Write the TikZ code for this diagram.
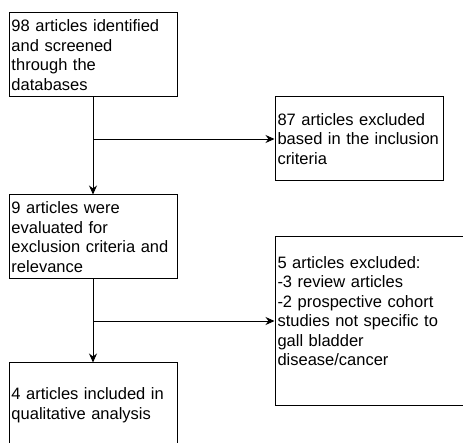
\documentclass[tikz,border=0pt]{standalone}
\usepackage{fontspec}
\setmainfont{Liberation Sans}
\usetikzlibrary{arrows.meta, positioning}
\hyphenpenalty=10000

\begin{document}
\begin{tikzpicture}[
            x=1pt, y=-1pt,
            stage box/.style={draw, line width=1pt, align=left, anchor=center,
                inner xsep=2.5pt, inner ysep=0pt, text width=163pt,
                minimum width=168pt, minimum height=84pt,
                font=\fontsize{16.5}{19.5}\selectfont},
            flow line/.style={line width=0.9pt, -{Stealth[length=9pt, width=8pt]}},
        ]

        % Page frame
        \useasboundingbox (0,0) rectangle (463,443);

        % Main column
        \node[stage box] (found) at (93,55) {98 articles identified\\and screened\\through the\\databases};
        \node[stage box] (evaluated) at (93,237) {9 articles were\\evaluated for\\exclusion criteria and\\relevance};
        \node[stage box] (included) at (93,405) {4 articles included in\\qualitative analysis};

        % Excluded boxes
        \node[stage box] (excl first) at (359,139) {87 articles excluded\\based in the inclusion\\criteria};
        \node[stage box, minimum width=192pt, minimum height=168pt, text width=187pt] (excl second) at (371,321)
            {5 articles excluded:\\-3 review articles\\-2 prospective cohort\\studies not specific to\\gall bladder\\disease/cancer\\\mbox{}};

        % Branch points
        \coordinate (split one) at (found.south |- excl first.west);
        \coordinate (split two) at (evaluated.south |- excl second.west);

        % Connectors
        \draw[flow line] (found) -- (evaluated);
        \draw[flow line] (evaluated) -- (included);
        \draw[flow line] (split one) -- (excl first);
        \draw[flow line] (split two) -- (excl second);

\end{tikzpicture}
\end{document}
